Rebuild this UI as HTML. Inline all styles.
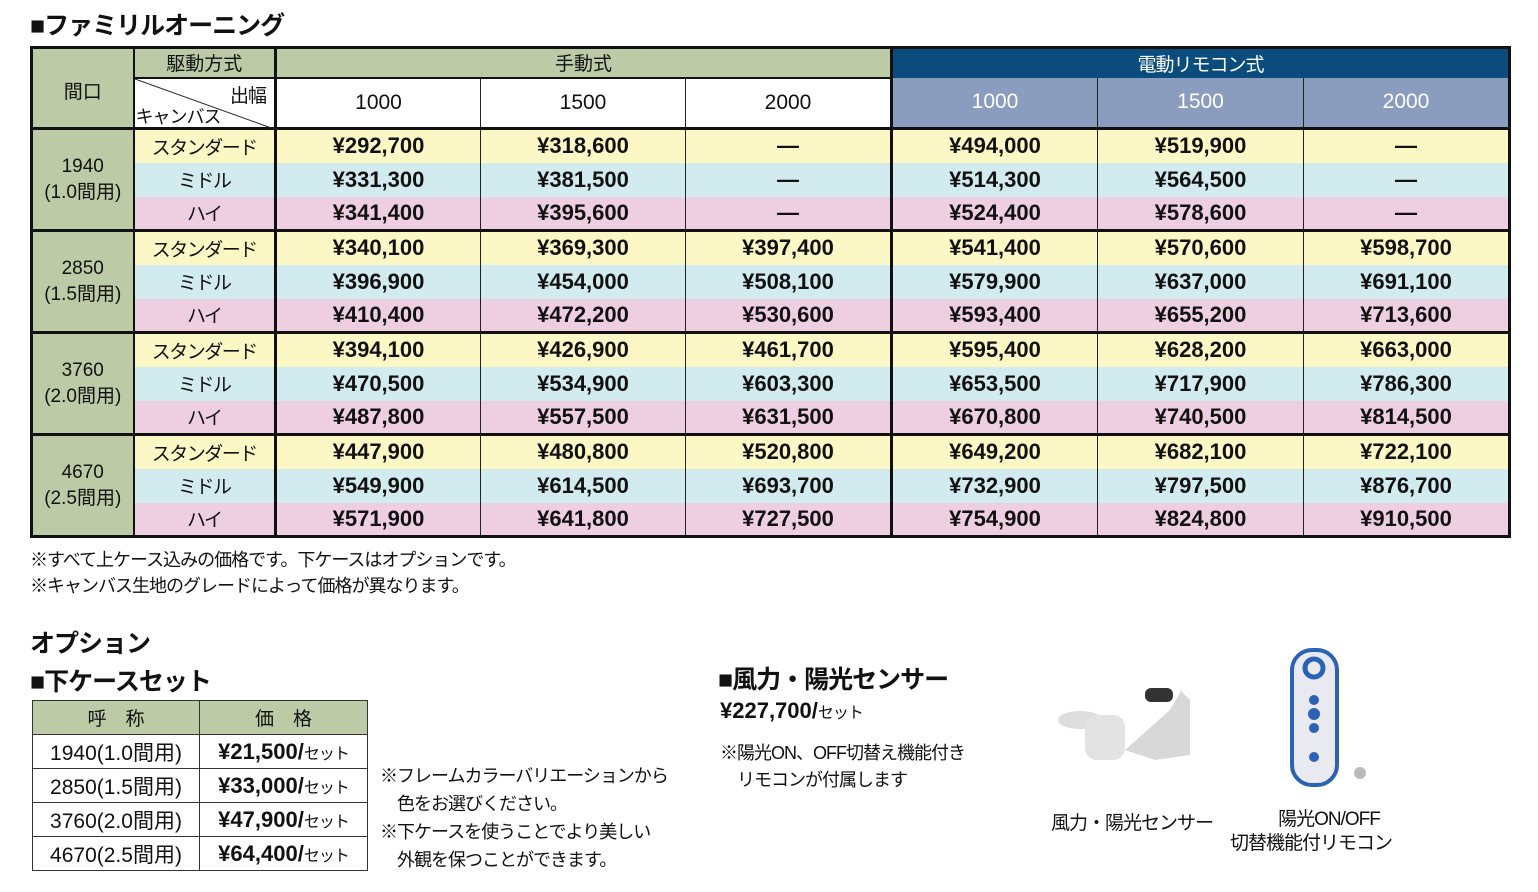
<!DOCTYPE html>
<html><head><meta charset="utf-8"><style>
body{margin:0;width:1538px;height:892px;background:#fff;font-family:"Liberation Sans","Noto Sans CJK JP",sans-serif;color:#111;position:relative;overflow:hidden}
.a{position:absolute;white-space:nowrap}
.n{letter-spacing:-1px}
table{border-collapse:collapse;table-layout:fixed;position:absolute}
td{padding:0;text-align:center;vertical-align:middle;border-left:1px solid #222;border-right:1px solid #222}
#m{left:30px;top:46px;border:3px solid #111}
#m td.g{background:#bdcaa6;font-size:19px}
.y td.p,.y td.c{background:#fcf8c6}
.b td.p,.b td.c{background:#d2ebef}
.k td.p,.k td.c{background:#eecfe2}
td.p{font-weight:bold;font-size:22px}
td.c{font-size:19px;border-right:3px solid #111;letter-spacing:-1.5px}
tr.top td{border-top:3px solid #111}
.L{border-left:3px solid #111!important}
.s td{border:1px solid #333;height:33px;font-size:21px}
</style></head><body>
<div class="a n" style="left:30px;top:6px;font-size:25px;font-weight:bold">■ファミリルオーニング</div>
<table id="m">
<colgroup><col style="width:102px"><col style="width:142px"><col style="width:205px"><col style="width:205px"><col style="width:206px"><col style="width:206px"><col style="width:206px"><col style="width:206px"></colgroup>
<tr style="height:30px"><td class="g" rowspan="2" style="border-right:2px solid #111;vertical-align:top;padding-top:28px">間口</td><td class="g" style="border-right:3px solid #111;border-bottom:2px solid #111">駆動方式</td><td class="g" colspan="3">手動式</td><td class="L n" colspan="3" style="background:#0a4c7e;color:#fff;font-size:19px">電動リモコン式</td></tr>
<tr style="height:51px;font-size:21px"><td style="border-right:3px solid #111;position:relative;background:#fff"><svg style="position:absolute;left:0;top:0" width="142" height="51"><line x1="0" y1="0" x2="142" y2="51" stroke="#222" stroke-width="1"/></svg><span class="a n" style="right:8px;top:2px;font-size:19px">出幅</span><span class="a n" style="left:1px;top:24px;font-size:18px">キャンバス</span></td><td style="border-top:2px solid #111">1000</td><td style="border-top:2px solid #111">1500</td><td style="border-top:2px solid #111">2000</td><td class="L" style="background:#8a9dbe;color:#fff">1000</td><td style="background:#8a9dbe;color:#fff">1500</td><td style="background:#8a9dbe;color:#fff">2000</td></tr>
<tr class="y top" style="height:34px"><td class="g" rowspan="3" style="border-right:2px solid #111;line-height:26px">1940<br>(1.0間用)</td><td class="c">スタンダード</td><td class="p">¥292,700</td><td class="p">¥318,600</td><td class="p">—</td><td class="p L">¥494,000</td><td class="p">¥519,900</td><td class="p">—</td></tr>
<tr class="b" style="height:34px"><td class="c">ミドル</td><td class="p">¥331,300</td><td class="p">¥381,500</td><td class="p">—</td><td class="p L">¥514,300</td><td class="p">¥564,500</td><td class="p">—</td></tr>
<tr class="k" style="height:34px"><td class="c">ハイ</td><td class="p">¥341,400</td><td class="p">¥395,600</td><td class="p">—</td><td class="p L">¥524,400</td><td class="p">¥578,600</td><td class="p">—</td></tr>
<tr class="y top" style="height:34px"><td class="g" rowspan="3" style="border-right:2px solid #111;line-height:26px">2850<br>(1.5間用)</td><td class="c">スタンダード</td><td class="p">¥340,100</td><td class="p">¥369,300</td><td class="p">¥397,400</td><td class="p L">¥541,400</td><td class="p">¥570,600</td><td class="p">¥598,700</td></tr>
<tr class="b" style="height:34px"><td class="c">ミドル</td><td class="p">¥396,900</td><td class="p">¥454,000</td><td class="p">¥508,100</td><td class="p L">¥579,900</td><td class="p">¥637,000</td><td class="p">¥691,100</td></tr>
<tr class="k" style="height:34px"><td class="c">ハイ</td><td class="p">¥410,400</td><td class="p">¥472,200</td><td class="p">¥530,600</td><td class="p L">¥593,400</td><td class="p">¥655,200</td><td class="p">¥713,600</td></tr>
<tr class="y top" style="height:34px"><td class="g" rowspan="3" style="border-right:2px solid #111;line-height:26px">3760<br>(2.0間用)</td><td class="c">スタンダード</td><td class="p">¥394,100</td><td class="p">¥426,900</td><td class="p">¥461,700</td><td class="p L">¥595,400</td><td class="p">¥628,200</td><td class="p">¥663,000</td></tr>
<tr class="b" style="height:34px"><td class="c">ミドル</td><td class="p">¥470,500</td><td class="p">¥534,900</td><td class="p">¥603,300</td><td class="p L">¥653,500</td><td class="p">¥717,900</td><td class="p">¥786,300</td></tr>
<tr class="k" style="height:34px"><td class="c">ハイ</td><td class="p">¥487,800</td><td class="p">¥557,500</td><td class="p">¥631,500</td><td class="p L">¥670,800</td><td class="p">¥740,500</td><td class="p">¥814,500</td></tr>
<tr class="y top" style="height:34px"><td class="g" rowspan="3" style="border-right:2px solid #111;line-height:26px">4670<br>(2.5間用)</td><td class="c">スタンダード</td><td class="p">¥447,900</td><td class="p">¥480,800</td><td class="p">¥520,800</td><td class="p L">¥649,200</td><td class="p">¥682,100</td><td class="p">¥722,100</td></tr>
<tr class="b" style="height:34px"><td class="c">ミドル</td><td class="p">¥549,900</td><td class="p">¥614,500</td><td class="p">¥693,700</td><td class="p L">¥732,900</td><td class="p">¥797,500</td><td class="p">¥876,700</td></tr>
<tr class="k" style="height:34px"><td class="c">ハイ</td><td class="p">¥571,900</td><td class="p">¥641,800</td><td class="p">¥727,500</td><td class="p L">¥754,900</td><td class="p">¥824,800</td><td class="p">¥910,500</td></tr>
</table>
<div class="a n" style="left:30px;top:546px;font-size:18px">※すべて上ケース込みの価格です。下ケースはオプションです。</div>
<div class="a n" style="left:30px;top:572px;font-size:18px">※キャンバス生地のグレードによって価格が異なります。</div>
<div class="a n" style="left:30px;top:624px;font-size:25px;font-weight:bold">オプション</div>
<div class="a n" style="left:30px;top:662px;font-size:25px;font-weight:bold">■下ケースセット</div>
<table class="s" style="left:32px;top:700px;width:335px">
<colgroup><col style="width:167px"><col style="width:168px"></colgroup>
<tr><td style="background:#bdcaa6;height:28px;font-size:19px">呼　称</td><td style="background:#bdcaa6;font-size:19px">価　格</td></tr>
<tr><td>1940(1.0間用)</td><td><b style="font-size:22px">¥21,500/</b><span class="n" style="font-size:16px">セット</span></td></tr>
<tr><td>2850(1.5間用)</td><td><b style="font-size:22px">¥33,000/</b><span class="n" style="font-size:16px">セット</span></td></tr>
<tr><td>3760(2.0間用)</td><td><b style="font-size:22px">¥47,900/</b><span class="n" style="font-size:16px">セット</span></td></tr>
<tr><td>4670(2.5間用)</td><td><b style="font-size:22px">¥64,400/</b><span class="n" style="font-size:16px">セット</span></td></tr>
</table>
<div class="a n" style="left:380px;top:762px;font-size:18px;line-height:28px">※フレームカラーバリエーションから<br>　色をお選びください。<br>※下ケースを使うことでより美しい<br>　外観を保つことができます。</div>
<div class="a n" style="left:718px;top:660px;font-size:25px;font-weight:bold">■風力・陽光センサー</div>
<div class="a" style="left:720px;top:698px"><b style="font-size:22px">¥227,700/</b><span class="n" style="font-size:16px">セット</span></div>
<div class="a n" style="left:720px;top:740px;font-size:18px;line-height:27px">※陽光ON、OFF切替え機能付き<br>　リモコンが付属します</div>
<svg class="a" style="left:1045px;top:680px" width="150" height="95"><ellipse cx="35" cy="40" rx="22" ry="9" fill="#ddd"/><rect x="40" y="35" width="40" height="45" rx="12" fill="#e3e3e3"/><path d="M80 70 L125 30 Q140 5 135 10 L145 20 L145 75 L110 80 Z" fill="#d8d8d8"/><rect x="100" y="8" width="28" height="14" rx="6" fill="#333"/></svg>
<svg class="a" style="left:1290px;top:648px" width="85" height="140"><rect x="2" y="2" width="45" height="135" rx="20" fill="#e8eaf0" stroke="#2b62b5" stroke-width="4"/><circle cx="24" cy="20" r="9" fill="none" stroke="#2b62b5" stroke-width="5"/><circle cx="24" cy="52" r="5" fill="#2b62b5"/><circle cx="24" cy="66" r="6" fill="#2b62b5"/><circle cx="24" cy="80" r="5" fill="#2b62b5"/><circle cx="24" cy="109" r="5" fill="#2b62b5"/><circle cx="70" cy="125" r="6" fill="#bbb"/></svg>
<div class="a n" style="left:1051px;top:808px;font-size:19px">風力・陽光センサー</div>
<div class="a n" style="left:1230px;top:808px;font-size:19px;text-align:center;line-height:24px">　　陽光ON/OFF<br>切替機能付リモコン</div>
</body></html>
